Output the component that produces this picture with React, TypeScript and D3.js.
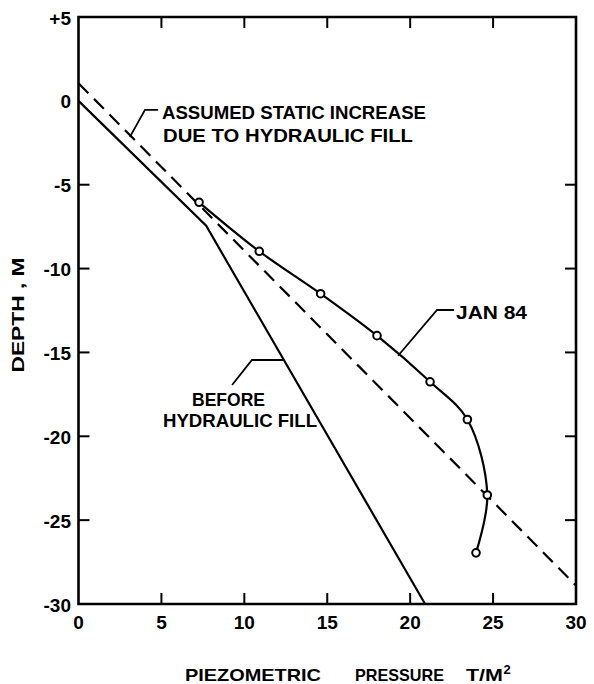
import React from "react";
import * as d3 from "d3";

// ---- data ----
const xTickValues = [0, 5, 10, 15, 20, 25, 30];
const yTickValues = [5, 0, -5, -10, -15, -20, -25, -30];
const yTickLabels = ["+5", "0", "-5", "-10", "-15", "-20", "-25", "-30"];

// JAN 84 measured piezometric pressure (T/M2) vs depth (M)
const janPressure = [7.27, 10.9, 14.6, 18.0, 21.2, 23.45, 24.65, 23.97];
const janDepth = [-6.05, -8.97, -11.5, -14.0, -16.75, -19.0, -23.5, -26.95];

// Before hydraulic fill
const beforePressure = [0, 7.7, 20.9];
const beforeDepth = [0, -7.45, -30];

// Assumed static increase due to hydraulic fill (dashed)
const staticPressure = [0, 30];
const staticDepth = [1.05, -28.9];

// ---- annotation leaders (data coordinates) ----
const leaderStatic: [number, number][] = [[3.1, -2.15], [4.01, -0.54], [4.8, -0.54]];
const leaderJan: [number, number][] = [[19.27, -15.2], [21.62, -12.47], [22.65, -12.47]];
const leaderBefore: [number, number][] = [[9.26, -16.94], [10.46, -15.45], [12.33, -15.45]];

const W = 594;
const H = 684;
const FONT = "'Liberation Sans', Arial, sans-serif";

export default function App() {
  const x = d3.scaleLinear().domain([0, 30]).range([78.5, 576]);
  const y = d3.scaleLinear().domain([5, -30]).range([17, 604]);

  const janPts: [number, number][] = janPressure.map((p, i) => [p, janDepth[i]]);
  const beforePts: [number, number][] = beforePressure.map((p, i) => [p, beforeDepth[i]]);
  const staticPts: [number, number][] = staticPressure.map((p, i) => [p, staticDepth[i]]);

  const straight = d3.line<[number, number]>().x((d) => x(d[0])).y((d) => y(d[1]));
  const smooth = d3
    .line<[number, number]>()
    .x((d) => x(d[0]))
    .y((d) => y(d[1]))
    .curve(d3.curveCatmullRom.alpha(0.5));

  const x0 = x(0), x1 = x(30), yTop = y(5), yBot = y(-30);
  const innerX = xTickValues.filter((v) => v > 0 && v < 30);
  const innerY = yTickValues.filter((v) => v < 0 && v > -30);
  const tickLen = 11;

  return (
    <svg
      width={W}
      height={H}
      style={{ position: "absolute", left: 0, top: 0, background: "#fff" }}
      fontFamily={FONT}
    >
      <rect x={0} y={0} width={W} height={H} fill="#fff" />

      {/* frame */}
      <path
        d={`M${x0},${yTop}H${x1}V${yBot}H${x0}Z`}
        fill="none"
        stroke="#000"
        strokeWidth={2.6}
      />

      {/* ticks (inward, all four sides) */}
      {innerX.map((v) => (
        <g key={"xt" + v}>
          <line x1={x(v)} x2={x(v)} y1={yBot} y2={yBot - tickLen} stroke="#000" strokeWidth={2} />
          <line x1={x(v)} x2={x(v)} y1={yTop} y2={yTop + tickLen} stroke="#000" strokeWidth={2} />
        </g>
      ))}
      {innerY.map((v) => (
        <g key={"yt" + v}>
          <line x1={x0} x2={x0 + tickLen} y1={y(v)} y2={y(v)} stroke="#000" strokeWidth={2} />
          <line x1={x1} x2={x1 - tickLen} y1={y(v)} y2={y(v)} stroke="#000" strokeWidth={2} />
        </g>
      ))}

      {/* tick labels */}
      {xTickValues.map((v) => (
        <text
          key={"xl" + v}
          x={x(v)}
          y={629}
          textAnchor="middle"
          fontSize={19}
          fontWeight="bold"
        >
          {v}
        </text>
      ))}
      {yTickValues.map((v, i) => (
        <text
          key={"yl" + v}
          x={71}
          y={y(v)}
          dy="0.4em"
          textAnchor="end"
          fontSize={19}
          fontWeight="bold"
        >
          {yTickLabels[i]}
        </text>
      ))}

      {/* axis titles */}
      <text
        transform={`translate(23.5,315) rotate(-90)`}
        textAnchor="middle"
        fontSize={16}
        fontWeight="bold"
        textLength={115}
        lengthAdjust="spacingAndGlyphs"
      >
        DEPTH , M
      </text>
      <g fontSize={17} fontWeight="bold">
        <text x={185} y={681} textLength={136} lengthAdjust="spacingAndGlyphs">PIEZOMETRIC</text>
        <text x={355} y={681} textLength={89} lengthAdjust="spacingAndGlyphs">PRESSURE</text>
        <text x={466} y={681} textLength={37} lengthAdjust="spacingAndGlyphs">T/M</text>
        <text x={503.5} y={674} fontSize={13}>2</text>
      </g>

      {/* data lines */}
      <path
        d={straight(staticPts) || ""}
        fill="none"
        stroke="#000"
        strokeWidth={2.2}
        strokeDasharray="14,8"
      />
      <path d={straight(beforePts) || ""} fill="none" stroke="#000" strokeWidth={2.2} />
      <path d={smooth(janPts) || ""} fill="none" stroke="#000" strokeWidth={2.2} />
      {janPts.map((d, i) => (
        <circle key={"c" + i} cx={x(d[0])} cy={y(d[1])} r={3.8} fill="#fff" stroke="#000" strokeWidth={2} />
      ))}

      {/* leaders */}
      {[leaderStatic, leaderJan, leaderBefore].map((pts, i) => (
        <path key={"ld" + i} d={straight(pts) || ""} fill="none" stroke="#000" strokeWidth={1.8} />
      ))}

      {/* annotation labels */}
      <g fontSize={19} fontWeight="bold">
        <text x={162} y={119} textLength={264} lengthAdjust="spacingAndGlyphs">ASSUMED STATIC INCREASE</text>
        <text x={163} y={142} textLength={250} lengthAdjust="spacingAndGlyphs">DUE TO HYDRAULIC FILL</text>
        <text x={456} y={319} textLength={71} lengthAdjust="spacingAndGlyphs">JAN 84</text>
        <text x={192} y={406} textLength={73} lengthAdjust="spacingAndGlyphs">BEFORE</text>
        <text x={163} y={427} textLength={154} lengthAdjust="spacingAndGlyphs">HYDRAULIC FILL</text>
      </g>
    </svg>
  );
}
